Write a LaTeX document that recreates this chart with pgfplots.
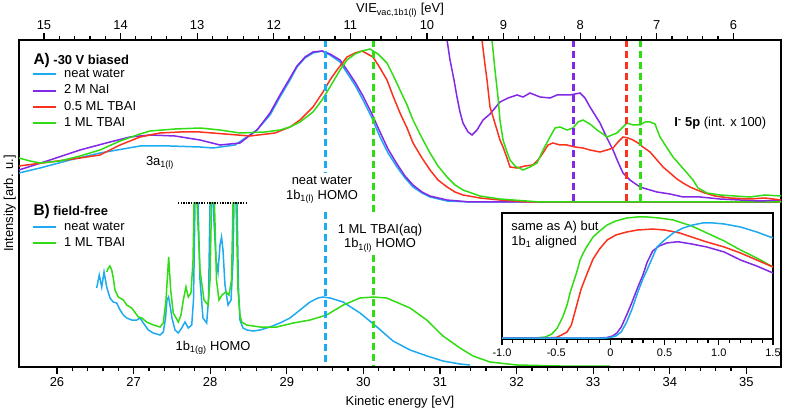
\documentclass[border=0pt]{standalone}
\usepackage{fontspec}
\setmainfont{Liberation Sans}
\usepackage{pgfplots}
\pgfplotsset{compat=1.18}
\definecolor{cblue}{RGB}{30,170,240}
\definecolor{cpurple}{RGB}{130,40,230}
\definecolor{cred}{RGB}{250,50,30}
\definecolor{cgreen}{RGB}{50,220,20}
\pgfplotsset{
  legend image code/.code={\draw[#1, line width=2bp] (0bp,0bp) -- (23bp,0bp);},
  mainframe/.style={
    scale only axis, width=762bp, height=327bp, at={(0bp,0bp)}, anchor=south west,
    ymin=0, ymax=327, ytick=\empty,
    axis line style={line width=1.6bp},
    tick align=outside, major tick length=7bp, minor tick length=4bp,
    every tick/.append style={black, line width=1.2bp},
    minor x tick num=4,
    tick label style={font=\fontsize{13}{15}\selectfont},
    /pgf/number format/assume math mode=true,
    label style={font=\fontsize{13}{15}\selectfont},
    legend cell align=left,
    legend style={draw=none, fill=none, inner sep=0pt, row sep=3.8bp, column sep=7bp,
      font=\fontsize{13}{15}\selectfont, nodes={inner sep=0pt, text height=9.5bp, text depth=2.8bp}},
  },
}
\begin{document}
\begin{tikzpicture}
\begin{axis}[mainframe,
  xmin=25.504, xmax=35.452, xtick={26,...,35}, xtick pos=left,
  xlabel={Kinetic energy [eV]}, ylabel={Intensity [arb. u.]},
  xlabel style={at={(axis description cs:0.5,0)}, anchor=base, yshift=-38bp},
  ylabel style={at={(axis description cs:-0.004,0.5)}, anchor=south, inner sep=0pt},
  legend style={at={(axis description cs:0.017,0.914)}, anchor=north west},
]
% ---- Panel A (-30 V biased)
\addplot[cblue, line width=1.5bp] coordinates {(25.504,194)(25.778,199)(26.17,207)(26.561,214)(27.084,221)(27.475,221)(27.867,220)(28.037,219)(28.324,222)(28.611,237)(28.781,252)(28.911,270)(29.042,287)(29.133,300)(29.238,309)(29.342,314)(29.46,316)(29.564,312)(29.695,305)(29.786,294)(29.89,282)(29.995,267)(30.112,249)(30.217,230)(30.321,214)(30.439,200)(30.543,189)(30.648,180)(30.765,174)(30.87,170)(31.092,166)(31.392,165)(32.5,165)(33.5,165)(34.5,165)(35.452,165)};
\addlegendentry{neat water}
\addplot[cpurple, line width=1.5bp] coordinates {(25.504,197)(25.909,207)(26.3,217)(26.692,225)(26.953,230)(27.214,232)(27.541,231)(27.867,227)(28.128,222)(28.389,224)(28.611,237)(28.781,254)(28.911,272)(29.042,289)(29.133,301)(29.238,310)(29.342,315)(29.46,316)(29.564,313)(29.695,307)(29.786,297)(29.89,285)(29.995,271)(30.112,253)(30.217,235)(30.321,218)(30.439,203)(30.543,191)(30.648,182)(30.765,175)(30.87,171)(31.092,167)(31.392,165)(32.5,165)(33.5,165)(34.5,165)(35.452,165)};
\addlegendentry{2 M NaI}
\addplot[cred, line width=1.5bp] coordinates {(25.504,201)(25.909,205)(26.3,209)(26.561,212)(26.823,222)(27.084,230)(27.345,234)(27.606,235)(27.867,235)(28.193,233)(28.52,231)(28.846,234)(29.042,240)(29.172,247)(29.342,260)(29.473,275)(29.564,287)(29.656,297)(29.786,310)(29.89,314)(29.982,316)(30.125,310)(30.217,299)(30.308,287)(30.387,271)(30.478,254)(30.57,239)(30.648,224)(30.765,209)(30.87,197)(30.974,187)(31.092,180)(31.196,175)(31.3,172)(31.522,169)(31.783,167)(32.175,165)(33.5,165)(35.452,165)};
\addlegendentry{0.5 ML TBAI}
\addplot[cgreen, line width=1.5bp] coordinates {(25.504,209)(25.648,206)(25.778,204)(26.039,206)(26.3,211)(26.561,217)(26.823,226)(27.084,233)(27.214,236)(27.541,238)(27.867,239)(28.128,237)(28.389,234)(28.716,235)(28.911,237)(29.042,240)(29.172,245)(29.342,255)(29.46,267)(29.564,280)(29.695,297)(29.786,307)(29.89,313)(29.982,316)(30.086,318)(30.191,313)(30.308,304)(30.387,292)(30.478,277)(30.57,262)(30.648,247)(30.765,229)(30.87,214)(30.974,201)(31.092,190)(31.196,182)(31.3,177)(31.522,171)(31.783,168)(32.306,165)(33.5,165)(35.452,165)};
\addlegendentry{1 ML TBAI}
% ---- I- 5p, intensity x 100
\addplot[cpurple, line width=1.5bp, forget plot] coordinates {(31.085,335)(31.092,327)(31.131,307)(31.183,287)(31.222,270)(31.261,255)(31.3,244)(31.366,235)(31.418,232)(31.483,237)(31.562,247)(31.653,253)(31.783,265)(31.888,269)(32.005,272)(32.084,270)(32.175,274)(32.306,270)(32.436,269)(32.528,272)(32.606,272)(32.697,272)(32.828,274)(32.893,269)(32.958,260)(33.024,252)(33.089,244)(33.18,229)(33.259,217)(33.324,205)(33.389,194)(33.48,187)(33.611,180)(33.742,177)(33.833,175)(34.003,173)(34.173,170)(34.395,170)(34.656,168)(34.917,167)(35.178,166)(35.452,167)};
\addplot[cred, line width=1.5bp, forget plot] coordinates {(31.54,335)(31.548,327)(31.588,302)(31.614,287)(31.653,260)(31.705,247)(31.744,237)(31.783,227)(31.823,220)(31.875,209)(31.914,200)(32.005,199)(32.11,201)(32.214,202)(32.28,207)(32.345,214)(32.41,222)(32.475,224)(32.567,222)(32.658,222)(32.763,220)(32.867,219)(32.958,217)(33.089,215)(33.18,217)(33.259,219)(33.324,225)(33.389,230)(33.454,229)(33.52,227)(33.585,224)(33.65,220)(33.742,215)(33.833,207)(33.912,200)(34.003,194)(34.094,188)(34.173,184)(34.264,180)(34.356,177)(34.46,174)(34.59,171)(34.786,169)(35.047,168)(35.243,169)(35.452,167)};
\addplot[cgreen, line width=1.5bp, forget plot] coordinates {(31.672,335)(31.679,327)(31.718,297)(31.757,270)(31.783,247)(31.823,227)(31.875,215)(31.914,207)(31.979,201)(32.084,197)(32.175,200)(32.267,204)(32.345,217)(32.436,230)(32.502,239)(32.567,240)(32.658,237)(32.737,239)(32.802,245)(32.867,247)(32.958,243)(33.05,237)(33.128,233)(33.18,230)(33.245,232)(33.311,234)(33.376,239)(33.441,244)(33.52,242)(33.611,242)(33.676,245)(33.742,245)(33.807,243)(33.872,230)(33.964,219)(34.042,210)(34.134,202)(34.225,194)(34.303,187)(34.369,179)(34.486,174)(34.656,172)(34.852,171)(35.047,170)(35.243,172)(35.452,171)};
% ---- Panel B (field-free)
\addplot[cblue, line width=1.5bp, forget plot] coordinates {(26.518,79)(26.552,92)(26.584,80)(26.614,95)(26.649,80)(26.692,69)(26.735,65)(26.779,64)(26.823,57)(26.866,52)(26.91,49)(26.975,47)(27.041,47)(27.084,49)(27.127,44)(27.192,37)(27.257,34)(27.345,32)(27.388,35)(27.417,49)(27.436,67)(27.456,70)(27.475,62)(27.501,49)(27.541,37)(27.584,34)(27.628,39)(27.671,45)(27.714,39)(27.759,42)(27.782,67)(27.802,164)(27.841,164)(27.867,87)(27.906,49)(27.954,44)(27.978,67)(27.998,164)(28.037,164)(28.076,107)(28.102,95)(28.128,122)(28.148,130)(28.167,117)(28.193,82)(28.233,62)(28.272,67)(28.298,107)(28.311,164)(28.35,164)(28.37,77)(28.389,47)(28.428,39)(28.481,37)(28.559,36)(28.65,37)(28.781,40)(28.911,44)(29.042,49)(29.173,57)(29.303,65)(29.407,69)(29.473,70)(29.564,69)(29.734,65)(29.956,54)(30.178,40)(30.387,26)(30.609,17)(30.831,11)(31.039,6)(31.261,3)(31.392,2)};
\addplot[cgreen, line width=1.5bp, forget plot] coordinates {(26.649,95)(26.67,99)(26.692,101)(26.714,97)(26.735,89)(26.757,77)(26.8,70)(26.866,67)(26.91,62)(26.975,59)(27.062,50)(27.106,49)(27.171,45)(27.257,42)(27.345,40)(27.388,44)(27.423,67)(27.458,110)(27.484,77)(27.518,54)(27.584,45)(27.619,52)(27.649,67)(27.684,80)(27.714,70)(27.749,74)(27.776,107)(27.789,164)(27.828,164)(27.867,97)(27.919,67)(27.972,62)(27.998,87)(28.017,164)(28.056,164)(28.082,87)(28.115,67)(28.154,72)(28.206,75)(28.246,72)(28.278,87)(28.298,164)(28.337,164)(28.363,77)(28.389,52)(28.411,45)(28.477,42)(28.65,40)(28.868,40)(29.085,44)(29.303,47)(29.521,52)(29.738,62)(29.956,69)(30.129,70)(30.304,69)(30.609,59)(30.827,47)(31.039,31)(31.261,19)(31.431,11)(31.653,5)(32.005,2)(32.567,1)(33.219,1)};
% ---- markers
\draw[cblue, line width=3bp, dash pattern=on 7bp off 4bp] (axis cs:29.5,327) -- (axis cs:29.5,194);
\draw[cblue, line width=3bp, dash pattern=on 7bp off 4bp] (axis cs:29.5,155) -- (axis cs:29.5,0);
\draw[cgreen, line width=3bp, dash pattern=on 7bp off 4bp] (axis cs:30.13,327) -- (axis cs:30.13,152);
\draw[cgreen, line width=3bp, dash pattern=on 7bp off 4bp] (axis cs:30.13,112) -- (axis cs:30.13,0);
\draw[cpurple, line width=3bp, dash pattern=on 7bp off 4bp] (axis cs:32.74,327) -- (axis cs:32.74,165);
\draw[cred, line width=3bp, dash pattern=on 7bp off 4bp] (axis cs:33.44,327) -- (axis cs:33.44,165);
\draw[cgreen, line width=3bp, dash pattern=on 7bp off 4bp] (axis cs:33.62,327) -- (axis cs:33.62,165);
\draw[black, line width=1.3bp, dash pattern=on 1.3bp off 1.3bp] (axis cs:27.58,164) -- (axis cs:28.49,164);
% ---- texts
\node[anchor=base west, font=\bfseries\fontsize{13}{15}\selectfont] at (axis cs:25.648,302) {{\fontsize{15.5}{17}\selectfont A)} -30 V biased};
\node[anchor=base west, font=\bfseries\fontsize{13}{15}\selectfont] at (axis cs:25.648,151) {{\fontsize{15.5}{17}\selectfont B)} field-free};
\node[font=\fontsize{13}{15}\selectfont] at (axis cs:27.345,204) {3a\textsubscript{1(l)}};
\node[align=center, font=\fontsize{13}{15}\selectfont] at (axis cs:29.46,177) {neat water\\1b\textsubscript{1(l)} HOMO};
\node[align=center, font=\fontsize{13}{15}\selectfont] at (axis cs:30.217,129) {1 ML TBAI(aq)\\1b\textsubscript{1(l)} HOMO};
\node[font=\fontsize{13}{15}\selectfont] at (axis cs:28.037,19) {1b\textsubscript{1(g)} HOMO};
\node[font=\fontsize{13}{15}\selectfont] at (axis cs:34.66,244) {\textbf{I\textsuperscript{-} 5p} (int. x 100)};
\end{axis}
% ---- top VIE axis, legend B
\begin{axis}[mainframe, hide y axis,
  x dir=reverse, xmin=5.378, xmax=15.326, xtick={6,...,15},
  xtick pos=right, xticklabel pos=right,
  xlabel={VIE\textsubscript{vac,1b1(l)} [eV]},
  xlabel style={at={(axis description cs:0.5,1)}, anchor=base, yshift=27bp},
  legend style={at={(axis description cs:0.017,0.4465)}, anchor=north west},
]
\addlegendimage{cblue}\addlegendentry{neat water}
\addlegendimage{cgreen}\addlegendentry{1 ML TBAI}
\end{axis}
% ---- inset
\begin{axis}[at={(483bp,28bp)}, anchor=south west, scale only axis, width=271bp, height=126bp,
  xmin=-1, xmax=1.5, ymin=0, ymax=126, ytick=\empty,
  xtick={-1,-0.5,0,0.5,1,1.5}, xticklabels={-1.0,-0.5,0,0.5,1.0,1.5},
  minor x tick num=4, xtick pos=left, tick align=outside,
  major tick length=6bp, minor tick length=4bp,
  every tick/.append style={black, line width=1.2bp},
  axis line style={line width=1.6bp},
  axis background/.style={fill=white},
  tick label style={font=\fontsize{11}{13}\selectfont},
  /pgf/number format/assume math mode=true,
]
\addplot[cgreen, line width=1.5bp] coordinates {(-1.0,1)(-0.7,1)(-0.6,2)(-0.54,5)(-0.49,11)(-0.44,22)(-0.40,34)(-0.37,47)(-0.34,57)(-0.31,67)(-0.28,79)(-0.25,86)(-0.22,92)(-0.16,102)(-0.1,108)(-0.03,114)(0.05,118)(0.15,121)(0.25,122)(0.34,122)(0.45,121)(0.58,119)(0.75,113)(0.89,106)(1.05,98)(1.20,89)(1.35,81)(1.5,72)};
\addplot[cred, line width=1.5bp] coordinates {(-1,1)(-0.6,1)(-0.5,1.5)(-0.45,4)(-0.40,7)(-0.36,14)(-0.31,34)(-0.27,50)(-0.22,64)(-0.16,80)(-0.1,90)(-0.03,99)(0.05,104)(0.15,107)(0.25,109)(0.39,110)(0.5,109)(0.64,106)(0.75,102)(0.89,97)(1.05,92)(1.20,86)(1.35,79)(1.5,72)};
\addplot[cpurple, line width=1.5bp] coordinates {(-1,1)(-0.1,1)(-0.03,1.5)(0.02,3)(0.06,6)(0.1,12)(0.15,24)(0.2,37)(0.25,51)(0.30,64)(0.34,77)(0.39,88)(0.45,93)(0.52,96)(0.6,97)(0.64,97)(0.75,95)(0.89,92)(1.05,87)(1.20,79)(1.35,73)(1.5,66)};
\addplot[cblue, line width=1.5bp] coordinates {(-1,1)(-0.05,1)(0,1.5)(0.05,3)(0.1,7)(0.15,17)(0.2,30)(0.25,46)(0.3,60)(0.35,72)(0.43,92)(0.5,99)(0.58,106)(0.67,111)(0.76,114)(0.85,116)(0.95,116)(1.05,115)(1.20,112)(1.35,107)(1.5,101)};
\node[anchor=west, align=left, font=\fontsize{13}{15}\selectfont] at (axis cs:-0.945,104.5) {same as A) but\\1b\textsubscript{1} aligned};
\end{axis}
\pgfresetboundingbox
\useasboundingbox (-19bp,-43bp) rectangle (768bp,367bp);
\end{tikzpicture}
\end{document}
